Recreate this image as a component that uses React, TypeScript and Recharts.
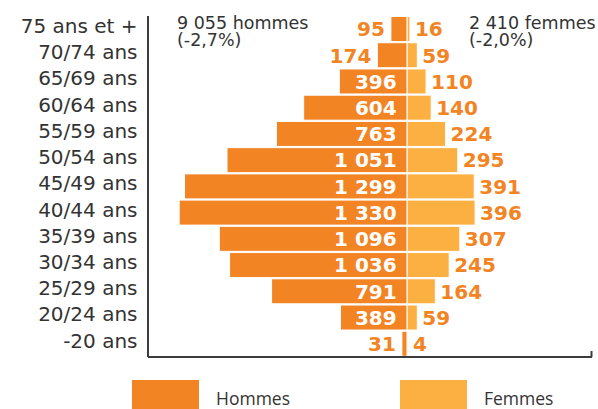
import React from 'react';
import { BarChart, Bar, XAxis, YAxis, LabelList } from 'recharts';

const ages = ['75 ans et +', '70/74 ans', '65/69 ans', '60/64 ans', '55/59 ans', '50/54 ans', '45/49 ans', '40/44 ans', '35/39 ans', '30/34 ans', '25/29 ans', '20/24 ans', '-20 ans'];
const hommes = [95, 174, 396, 604, 763, 1051, 1299, 1330, 1096, 1036, 791, 389, 31];
const femmes = [16, 59, 110, 140, 224, 295, 391, 396, 307, 245, 164, 59, 4];
const totalHommes = '9 055 hommes';
const evolHommes = '(-2,7%)';
const totalFemmes = '2 410 femmes';
const evolFemmes = '(-2,0%)';
const legendLabels = ['Hommes', 'Femmes'];

const H_COLOR = '#F28424';
const F_COLOR = '#FBB041';
const TEXT = '#333333';
const AXIS = '#3c3c3c';
const DOMAIN: [number, number] = [-1512, 1078];

const data = ages.map((a, i) => ({ age: a, h: -hommes[i], f: femmes[i] }));

const fmt = (n: number) =>
  n >= 1000 ? `${Math.floor(n / 1000)} ${String(n % 1000).padStart(3, '0')}` : String(n);

const YTick = (props: any) => {
  const { y, payload } = props;
  return (
    <text x={137.5} y={y + 3.8} textAnchor="end" fontSize={20} fontFamily="DejaVu Sans" fill={TEXT}>
      {payload.value}
    </text>
  );
};

const XEndTick = (props: any) => {
  const { x, y } = props;
  return <line x1={x - 0.5} y1={y} x2={x - 0.5} y2={y - 6} stroke={AXIS} strokeWidth={2} />;
};

const HLabel = (props: any) => {
  const { x, y, width, height, index } = props;
  const v = hommes[index];
  const left = Math.min(x, x + width);
  const right = Math.max(x, x + width);
  const cy = y + height / 2 + 7.3;
  const inside = v >= 300;
  return (
    <text
      x={inside ? right - 10.5 : left - 6}
      y={cy}
      textAnchor="end"
      fontSize={20}
      fontWeight="bold"
      fontFamily="DejaVu Sans"
      fill={inside ? '#FFFFFF' : H_COLOR}
    >
      {fmt(v)}
    </text>
  );
};

const FLabel = (props: any) => {
  const { x, y, width, height, index } = props;
  const v = femmes[index];
  const right = Math.max(x, x + width);
  const cy = y + height / 2 + 7.3;
  return (
    <text x={right + 5} y={cy} textAnchor="start" fontSize={20} fontWeight="bold" fontFamily="DejaVu Sans" fill={H_COLOR}>
      {fmt(v)}
    </text>
  );
};

export default function App() {
  return (
    <div style={{ position: 'absolute', left: 0, top: 0, width: 598, height: 409, background: '#fff' }}>
      <BarChart
        width={598}
        height={409}
        data={data}
        layout="vertical"
        stackOffset="sign"
        barCategoryGap={0.5}
        margin={{ top: 16, right: 6, bottom: 42, left: 0 }}
      >
        <XAxis
          type="number"
          domain={DOMAIN}
          allowDataOverflow
          ticks={[DOMAIN[1]]}
          interval={0}
          tick={<XEndTick />}
          tickSize={0}
          tickMargin={0}
          tickLine={false}
          height={10}
          axisLine={{ stroke: AXIS, strokeWidth: 2 }}
        />
        <YAxis
          type="category"
          dataKey="age"
          width={148}
          tick={<YTick />}
          tickLine={false}
          axisLine={{ stroke: AXIS, strokeWidth: 2 }}
          interval={0}
        />
        <Bar dataKey="h" stackId="a" fill={H_COLOR} stroke="#ffffff" strokeWidth={1} isAnimationActive={false}>
          <LabelList dataKey="h" content={<HLabel />} />
        </Bar>
        <Bar dataKey="f" stackId="a" fill={F_COLOR} stroke="#ffffff" strokeWidth={1} isAnimationActive={false}>
          <LabelList dataKey="f" content={<FLabel />} />
        </Bar>
      </BarChart>
      <svg
        width={598}
        height={409}
        style={{ position: 'absolute', left: 0, top: 0, pointerEvents: 'none' }}
      >
        <g fontFamily="DejaVu Sans" fontSize={17.5} fill={TEXT}>
          <text x={177} y={29}>{totalHommes}</text>
          <text x={177} y={46}>{evolHommes}</text>
          <text x={469} y={29}>{totalFemmes}</text>
          <text x={469} y={46}>{evolFemmes}</text>
        </g>
        <rect x={132} y={380} width={67} height={29} fill={H_COLOR} />
        <text x={216} y={405} fontFamily="Open Sans" fontSize={17.5} fill={TEXT}>{legendLabels[0]}</text>
        <rect x={400} y={380} width={67} height={29} fill={F_COLOR} />
        <text x={484} y={405} fontFamily="Open Sans" fontSize={17.5} fill={TEXT}>{legendLabels[1]}</text>
      </svg>
    </div>
  );
}
